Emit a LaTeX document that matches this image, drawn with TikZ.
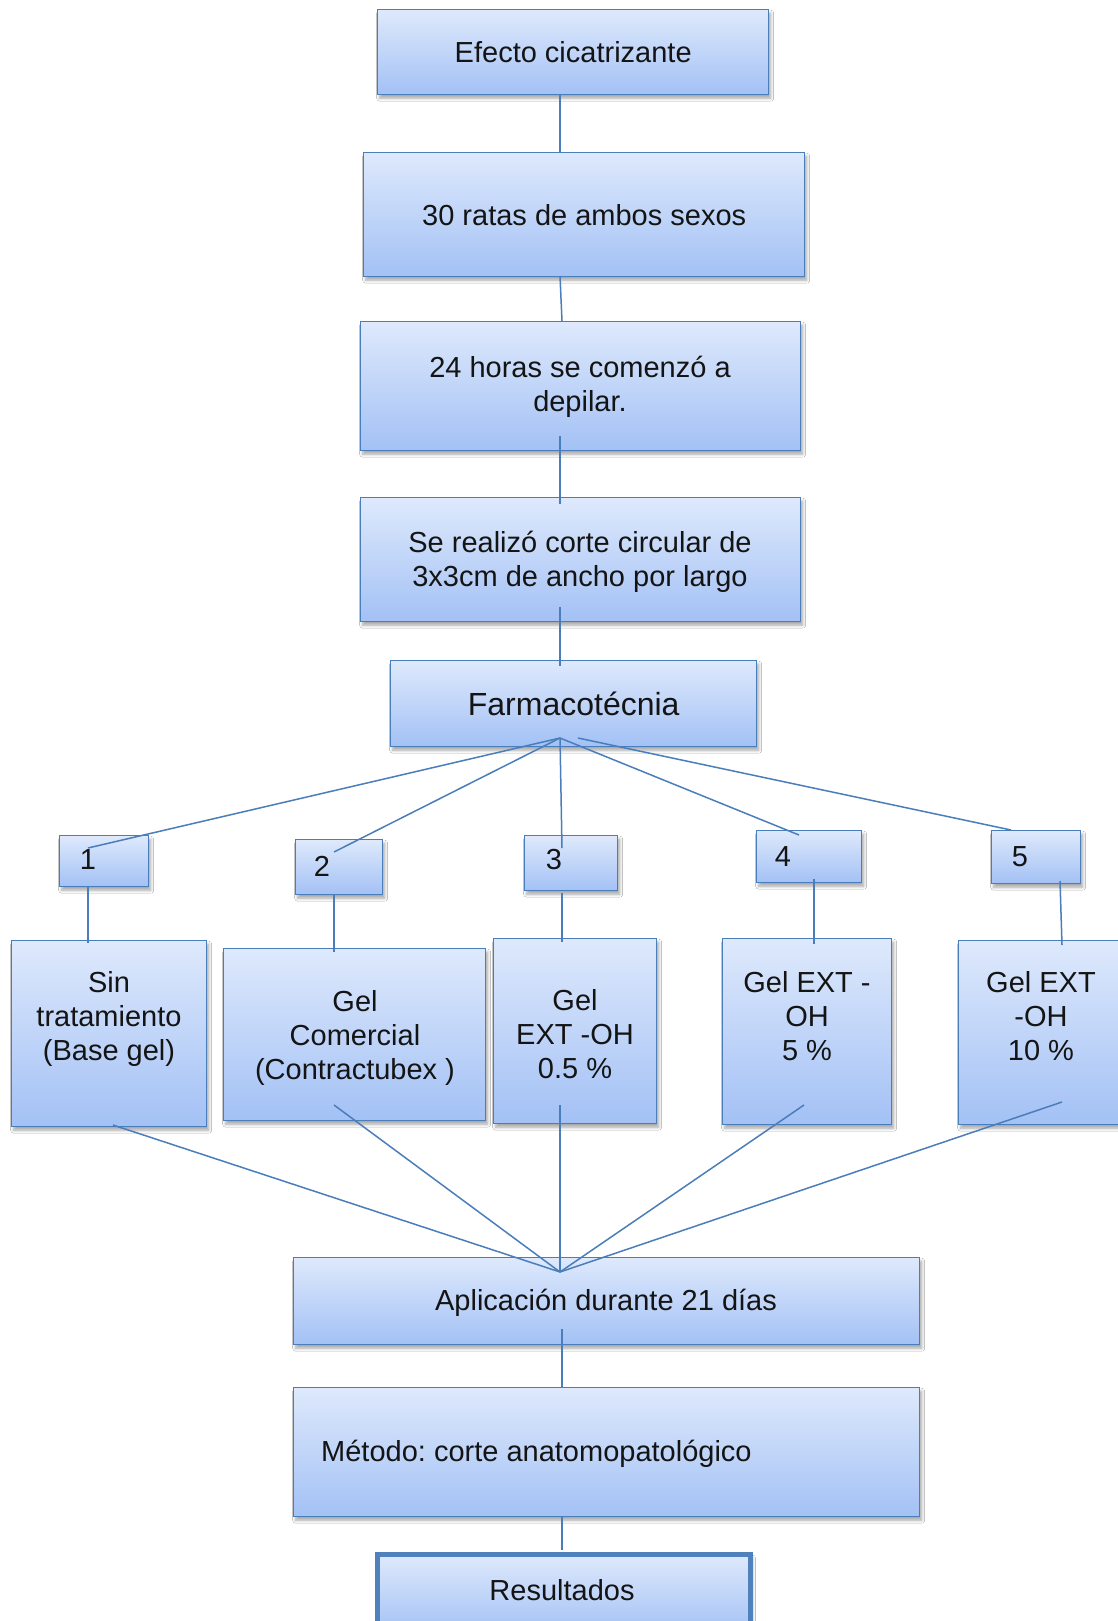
\documentclass[tikz,border=0pt]{standalone}
\usepackage{fontspec}
\setmainfont{Liberation Sans}
\usetikzlibrary{shadows.blur}
\definecolor{boxtop}{RGB}{222,233,252}
\definecolor{boxbot}{RGB}{163,193,245}
\definecolor{bordc}{RGB}{74,126,187}
\definecolor{linec}{RGB}{74,126,187}
\definecolor{resc}{RGB}{79,129,189}
\definecolor{txtc}{RGB}{20,20,20}
\frenchspacing
\begin{document}
\begin{tikzpicture}[x=1pt,y=-1pt,
  box/.style={draw=bordc, line width=1.4pt, top color=boxtop, bottom color=boxbot,
    anchor=north west, inner sep=0pt,
    blur shadow={shadow xshift=2pt, shadow yshift=-3.5pt, shadow blur radius=3pt, shadow opacity=35},
    font=\fontsize{29}{34}\selectfont, text=txtc, align=center},
  lbl/.style={font=\fontsize{29}{34}\selectfont, text=txtc, align=center, inner sep=0pt},
  conn/.style={draw=linec, line width=1.5pt}
]
\path[use as bounding box, clip] (0,0) rectangle (1118,1621);
\fill[white] (0,0) rectangle (1118,1621);

% main chain
\node[box, minimum width=391pt, minimum height=85pt] (e1) at (377,9) {Efecto cicatrizante};
\node[box, minimum width=441pt, minimum height=124pt] (e2) at (363,152) {30 ratas de ambos sexos};
\node[box, minimum width=440pt, minimum height=129pt] (e3) at (360,321) {};
\node[lbl] (e3t) at (580,387) {24 horas se comenzó a\\depilar.};
\node[box, minimum width=440pt, minimum height=124pt] (e4) at (360,497) {};
\node[lbl] (e4t) at (580,562) {Se realizó corte circular de\\3x3cm de ancho por largo};
\node[box, minimum width=366pt, minimum height=86pt, font=\fontsize{32}{38}\selectfont] (farm) at (390,660) {Farmacotécnia};

% number boxes
\node[box, minimum width=89pt, minimum height=51pt] (n1) at (59,835) {};
\node[box, minimum width=87pt, minimum height=55pt] (n2) at (295,839) {};
\node[box, minimum width=93pt, minimum height=55pt] (n3) at (524,835) {};
\node[box, minimum width=105pt, minimum height=52pt] (n4) at (756,830) {};
\node[box, minimum width=89pt, minimum height=53pt] (n5) at (991,830) {};
\node[lbl] (t1) at (88,860) {1};
\node[lbl] (t2) at (322,866) {2};
\node[lbl] (t3) at (554,860) {3};
\node[lbl] (t4) at (783,857) {4};
\node[lbl] (t5) at (1020,857) {5};

% group boxes
\node[box, minimum width=195pt, minimum height=186pt] (g1) at (11,940) {};
\node[box, minimum width=262pt, minimum height=172pt] (g2) at (223,948) {};
\node[box, minimum width=163pt, minimum height=185pt] (g3) at (493,938) {};
\node[box, minimum width=169pt, minimum height=186pt] (g4) at (722,938) {};
\node[box, minimum width=170pt, minimum height=184pt] (g5) at (958,940) {};
\node[lbl] (g1t) at (109,1019) {Sin\\tratamiento\\(Base gel)};
\node[lbl] (g2t) at (355,1038) {Gel\\Comercial\\(Contractubex )};
\node[lbl] (g3t) at (575,1034) {Gel\\EXT -OH\\0.5 \%};
\node[lbl] (g4t) at (807,1016) {Gel EXT -\\OH\\5 \%};
\node[lbl] (g5t) at (1041,1016) {Gel EXT\\-OH\\10 \%};

% bottom chain
\node[box, minimum width=626pt, minimum height=87pt] (apl) at (293,1257) {};
\node[lbl] (aplt) at (606,1303) {Aplicación durante 21 días};
\node[box, minimum width=626pt, minimum height=129pt] (met) at (293,1387) {};
\node[lbl, anchor=west] (mett) at (321,1454) {Método: corte anatomopatológico};
\node[box, draw=resc, line width=5pt, minimum width=373pt, minimum height=80pt] (res) at (375,1552) {};
\node[lbl] (rest) at (562,1590) {Resultados};

% connector end points
\coordinate (c1a) at (560,94);   \coordinate (c1b) at (560,152);
\coordinate (c2a) at (560,276);  \coordinate (c2b) at (562,321);
\coordinate (c3a) at (560,436);  \coordinate (c3b) at (560,504);
\coordinate (c4a) at (560,607);  \coordinate (c4b) at (560,666);
\coordinate (hubF) at (560,738); \coordinate (hubF2) at (578,738);
\coordinate (m1) at (88,848);  \coordinate (m2) at (334,852);
\coordinate (m3) at (562,848); \coordinate (m4) at (799,835);
\coordinate (m5) at (1011,830);
\coordinate (d1a) at (88,886);   \coordinate (d1b) at (88,943);
\coordinate (d2a) at (334,894);  \coordinate (d2b) at (334,952);
\coordinate (d3a) at (562,893);  \coordinate (d3b) at (562,942);
\coordinate (d4a) at (814,879);  \coordinate (d4b) at (814,944);
\coordinate (d5a) at (1060,881); \coordinate (d5b) at (1062,945);
\coordinate (u1) at (113,1125); \coordinate (u2) at (334,1105);
\coordinate (u3) at (560,1105); \coordinate (u4) at (804,1105);
\coordinate (u5) at (1062,1102);
\coordinate (hubA) at (560,1272);
\coordinate (f1a) at (562,1329); \coordinate (f1b) at (562,1387);
\coordinate (f2a) at (562,1516); \coordinate (f2b) at (562,1550);

\draw[conn] (c1a) -- (c1b);
\draw[conn] (c2a) -- (c2b);
\draw[conn] (c3a) -- (c3b);
\draw[conn] (c4a) -- (c4b);
\draw[conn] (hubF) -- (m1);
\draw[conn] (hubF) -- (m2);
\draw[conn] (hubF) -- (m3);
\draw[conn] (hubF) -- (m4);
\draw[conn] (hubF2) -- (m5);
\draw[conn] (d1a) -- (d1b);
\draw[conn] (d2a) -- (d2b);
\draw[conn] (d3a) -- (d3b);
\draw[conn] (d4a) -- (d4b);
\draw[conn] (d5a) -- (d5b);
\draw[conn] (u1) -- (hubA);
\draw[conn] (u2) -- (hubA);
\draw[conn] (u3) -- (hubA);
\draw[conn] (u4) -- (hubA);
\draw[conn] (u5) -- (hubA);
\draw[conn] (f1a) -- (f1b);
\draw[conn] (f2a) -- (f2b);
\end{tikzpicture}
\end{document}
